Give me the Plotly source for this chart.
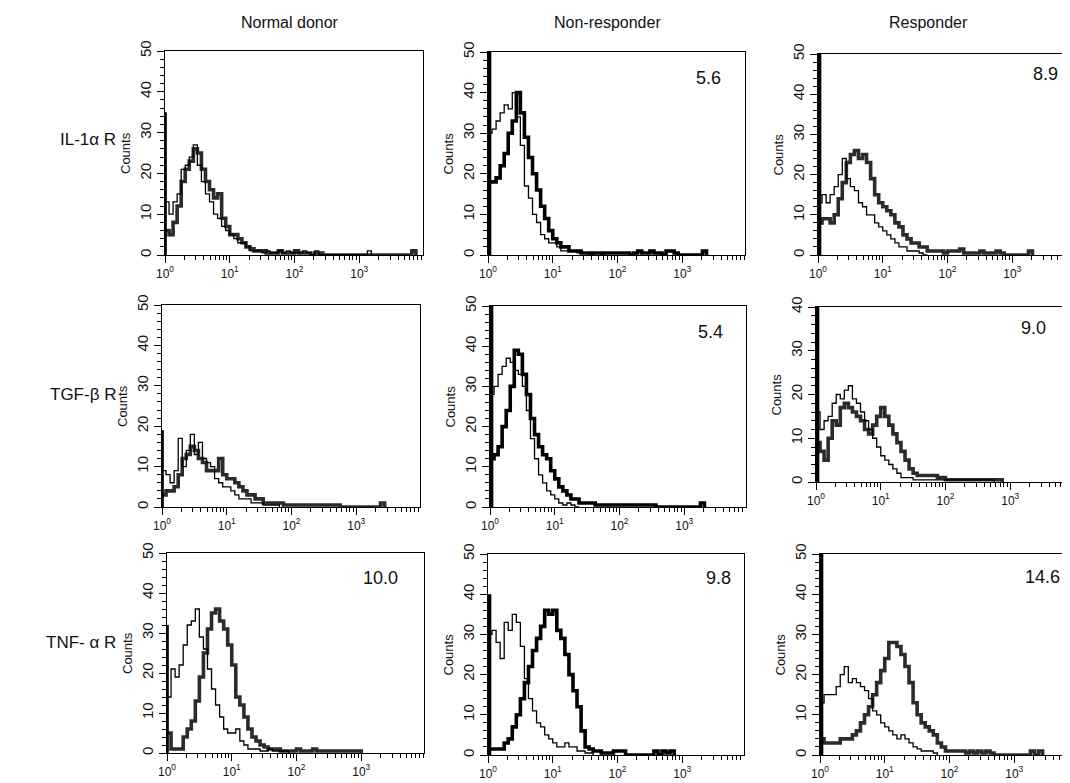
import plotly.graph_objects as go

# ---------------- data ----------------
COLUMN_TITLES = ["Normal donor", "Non-responder", "Responder"]
ROW_TITLES = ["IL-1\u03b1 R", "TGF-\u03b2 R", "TNF- \u03b1 R"]
X_TICK_VALUES = [1, 10, 100, 1000, 10000]
X_TICK_TEXT = ["10<sup>0</sup>", "10<sup>1</sup>", "10<sup>2</sup>", "10<sup>3</sup>", "10<sup>4</sup>"]
Y_MAX = [[50, 50, 50], [50, 50, 40], [50, 50, 50]]
MFI_LABELS = [[None, "5.6", "8.9"], [None, "5.4", "9.0"], ["10.0", "9.8", "14.6"]]
CHANNELS_PER_DECADE = 16          # histogram bins: 16 log-channels per decade, starting at 10^0
FIRST_CHANNEL_X = 1.03            # pile-up in the first channel
FIRST_CHANNEL_COUNTS = [[35, 50, 50], [19, 50, 40], [32, 40, 50]]

# isotype control (thin) and receptor stain (thick) histograms, counts per channel
IL1_ND_ISO = [13, 10, 13, 15, 21, 22, 24, 27, 22, 18, 15, 13, 10, 9, 7, 6, 5, 4, 3, 3, 2, 1, 1, 1, 0.5, 1, 0.5,
              0.5, 1, 0.5, 1, 0.5, 0.5, 0.5, 1, 0.5, 0, 1, 0, 0, 0, 0, 0, 0, 0, 0, 0, 0, 0, 0, 1, 0]
IL1_ND_STAIN = [6, 5, 8, 12, 18, 21, 23, 26, 25, 21, 18, 16, 14, 15, 9, 7, 5, 5, 4, 3, 2, 1.5, 1, 1, 1, 0.5, 0.5,
                0.5, 1, 0.5, 0.5, 0.5, 1, 0.5, 0.5, 0.5, 0, 0.5, 0.5, 0, 0, 0, 0, 0, 0, 0, 0, 0, 0, 0, 0, 0, 0,
                0, 0, 0, 0, 0, 0, 0, 0, 1, 0]
IL1_NR_ISO = [30, 31, 33, 35, 37, 36, 40, 34, 27, 17, 14, 10, 8, 5, 4, 3, 3, 2, 1, 1, 1, 1, 0.5, 0.5, 0.5, 0,
              0.5, 0.5, 0, 0]
IL1_NR_STAIN = [18, 18, 19, 22, 25, 30, 33, 40, 35, 29, 24, 20, 16, 12, 9, 6, 4, 3, 2, 2, 1, 1, 1, 0.5, 0.5, 0.5,
                0.5, 0.5, 0.5, 0.5, 0.5, 0.5, 0.5, 0.5, 0.5, 0, 0.5, 1, 0.5, 0.5, 1, 0.5, 0.5, 0, 1, 1, 0.5, 0,
                0, 0, 0, 0, 0, 1, 0]
IL1_R_ISO = [13, 15, 13, 15, 17, 20, 24, 19, 17, 16, 13, 12, 10, 10, 8, 7, 6, 5, 4, 3, 2, 2, 1, 1, 1, 0.5, 0, 0]
IL1_R_STAIN = [8, 9, 9, 8, 10, 14, 18, 23, 25, 26, 24, 25, 23, 19, 15, 13, 12, 11, 10, 8, 7, 5, 4, 3, 3, 2, 2, 1,
               1, 1, 1, 0.5, 1, 1, 1, 1.5, 0.5, 0.5, 0.5, 0.5, 1, 0.5, 0.5, 0.5, 1, 0.5, 0, 0, 0, 0, 0, 0, 1, 0]

TGF_ND_ISO = [9, 8, 6, 9, 17, 10, 14, 18, 13, 16, 12, 11, 10, 7, 6, 5, 5, 4, 3, 2, 2, 2, 1, 1, 1, 0.5, 0.5, 0.5,
              0.5, 0]
TGF_ND_STAIN = [3, 4, 4, 5, 8, 12, 13, 15, 14, 12, 11, 9, 9, 9, 12, 8, 7, 7, 6, 5, 4, 3, 3, 2, 2, 1, 1, 1, 1, 1,
                0.5, 0.5, 0.5, 0.5, 0.5, 0.5, 0.5, 0.5, 0.5, 0.5, 0.5, 0.5, 0.5, 0.5, 0, 0, 0, 0, 0, 0, 0, 0, 0,
                0, 1, 0]
TGF_NR_ISO = [28, 30, 33, 35, 37, 36, 34, 33, 30, 24, 17, 12, 8, 6, 4, 3, 2, 1, 0.5, 1, 0.5, 0, 0]
TGF_NR_STAIN = [12, 13, 15, 20, 24, 30, 39, 38, 33, 28, 22, 18, 15, 13, 12, 9, 7, 5, 4, 3, 2, 2, 1, 1, 1, 1, 0.5,
                0.5, 0.5, 0.5, 0.5, 0.5, 0.5, 0.5, 0.5, 0.5, 0.5, 0.5, 0.5, 0.5, 0.5, 0, 0, 0, 0, 0, 0, 0, 0, 0,
                0, 0, 1, 0]
TGF_R_ISO = [16, 12, 14, 15, 18, 20, 19, 21, 22, 19, 18, 16, 14, 12, 10, 8, 6, 5, 4, 3, 2, 1, 1, 1, 0.5, 0.5, 0.5,
             0.5, 0.5, 0.5, 0.5, 0.5, 0.5, 0.5, 0.5, 0.5, 0.5, 0.5, 0.5, 0.5, 0.5, 0.5, 0.5, 0.5, 0]
TGF_R_STAIN = [9, 7, 5, 10, 14, 13, 17, 18, 17, 16, 15, 14, 12, 11, 13, 15, 17, 15, 13, 11, 9, 7, 5, 3, 2, 1.5,
               1.5, 1.5, 1.5, 1.5, 1, 1, 0.5, 0.5, 0.5, 0.5, 0.5, 0.5, 0.5, 0.5, 0.5, 0.5, 0.5, 0.5, 0.5, 0.5, 0]

TNF_ND_ISO = [14, 21, 19, 22, 27, 32, 33, 36, 29, 26, 21, 16, 12, 9, 6, 5, 5, 6, 3, 2, 1, 1, 1, 0.5, 0.5, 1, 0.5,
              0.5, 0.5, 0.5, 0]
TNF_ND_STAIN = [5, 1, 1, 1, 4, 6, 8, 13, 19, 25, 31, 35, 36, 33, 31, 27, 22, 14, 12, 9, 6, 4, 3, 2, 1.5, 1, 1, 1,
                0.5, 0.5, 0.5, 0.5, 1, 0.5, 0.5, 0.5, 1, 0.5, 0.5, 0.5, 0.5, 0.5, 0.5, 0.5, 0.5, 0.5, 0.5,
                0.5, 0]
TNF_NR_ISO = [30, 31, 28, 24, 33, 31, 35, 33, 27, 19, 14, 11, 8, 7, 5, 4, 3, 2, 2, 3, 2, 2, 1, 1, 0.5, 0.5, 0]
TNF_NR_STAIN = [1.5, 1.5, 1.5, 1.5, 3, 4, 7, 10, 14, 18, 22, 26, 29, 32, 36, 35, 36, 31, 29, 25, 20, 16, 12, 6, 2,
                1.5, 1, 1, 0.5, 0.5, 0.5, 1, 1, 1, 0, 0, 0, 0, 0, 0, 0, 1, 0, 1, 0.5, 1, 0]
TNF_R_ISO = [13, 15, 15, 15, 17, 20, 22, 18, 19, 18, 17, 16, 14, 11, 10, 8, 7, 6, 5, 4, 5, 4, 3, 2, 1.5, 1, 1, 1,
             0.5, 0]
TNF_R_STAIN = [4, 3, 3, 3, 3, 4, 4, 4, 5, 6, 8, 10, 12, 15, 18, 21, 24, 28, 28, 27, 25, 22, 18, 13, 10, 8, 7, 6,
               5, 3, 2, 1, 1, 1, 1, 1, 0.5, 1, 0.5, 1, 0.5, 1, 0.5, 0, 0, 0, 0, 0, 0, 0, 0, 0, 1, 0, 1, 0]

ISO = [[IL1_ND_ISO, IL1_NR_ISO, IL1_R_ISO],
       [TGF_ND_ISO, TGF_NR_ISO, TGF_R_ISO],
       [TNF_ND_ISO, TNF_NR_ISO, TNF_R_ISO]]
STAIN = [[IL1_ND_STAIN, IL1_NR_STAIN, IL1_R_STAIN],
         [TGF_ND_STAIN, TGF_NR_STAIN, TGF_R_STAIN],
         [TNF_ND_STAIN, TNF_NR_STAIN, TNF_R_STAIN]]

# ---------------- layout ----------------
PAGE_OFFSET = 8                    # the page body margin shifts the figure by 8 px
W, H = 1070 - PAGE_OFFSET, 783 - PAGE_OFFSET
BOX = [  # (left, right, top, bottom) in screen px
    [(165, 423, 51, 255), (488, 745, 52, 255), (818, 1070, 54, 255)],
    [(162, 420, 305, 507), (490, 746, 306, 507), (816, 1070, 307, 482)],
    [(167, 424, 553, 753), (488, 744, 554, 755), (820, 1070, 554, 755)],
]
MFI_POS = [  # (right edge, vertical centre) of the value labels, screen px
    [None, (723, 78), (1060, 74)],
    [None, (725, 332), (1048, 328)],
    [(400, 578), (733, 578), (1062, 577)],
]
FONT = "Liberation Sans, Arial, sans-serif"


def px(xs):
    return (xs - PAGE_OFFSET) / W


def py(ys):
    return 1 - (ys - PAGE_OFFSET) / H


def channel_x(n):
    return [10 ** (k / CHANNELS_PER_DECADE) for k in range(n)]


MINOR_X = [m * 10 ** d for d in range(4) for m in range(2, 10)]
DECADE_PX = (424 - 165) / 4.0

fig = go.Figure()
annotations = []
for r in range(3):
    for c in range(3):
        i = r * 3 + c + 1
        xa = "x" if i == 1 else f"x{i}"
        ya = "y" if i == 1 else f"y{i}"
        L, R, T, B = BOX[r][c]
        thick_col = "#000000" if c == 1 else "#2b2b2b"

        iso = ISO[r][c]
        stain = STAIN[r][c]
        fig.add_trace(go.Scatter(x=channel_x(len(stain)), y=stain, mode="lines",
                                 line=dict(shape="hv", color=thick_col, width=3.6),
                                 xaxis=xa, yaxis=ya, showlegend=False, hoverinfo="skip"))
        fig.add_trace(go.Scatter(x=channel_x(len(iso)), y=iso, mode="lines",
                                 line=dict(shape="hv", color="#000000", width=1.3),
                                 xaxis=xa, yaxis=ya, showlegend=False, hoverinfo="skip"))
        fig.add_trace(go.Scatter(x=[FIRST_CHANNEL_X, FIRST_CHANNEL_X], y=[0, FIRST_CHANNEL_COUNTS[r][c]],
                                 mode="lines", line=dict(color="#000000", width=2 if c == 0 else 5),
                                 xaxis=xa, yaxis=ya, showlegend=False, hoverinfo="skip"))

        ymax = Y_MAX[r][c]
        x_right = min(px(R), 1.0)
        fig.update_layout(**{
            ("xaxis" if i == 1 else f"xaxis{i}"): dict(
                domain=[px(L), x_right], anchor=ya, type="log",
                range=[0, (x_right * W + PAGE_OFFSET - L) / DECADE_PX], automargin=False,
                tickmode="array", tickvals=X_TICK_VALUES, ticktext=X_TICK_TEXT,
                ticks="outside", ticklen=7, tickwidth=1.2, tickcolor="black",
                minor=dict(tickmode="array", tickvals=MINOR_X, ticks="outside", ticklen=4,
                           tickwidth=1, tickcolor="black", showgrid=False),
                showline=True, linecolor="black", linewidth=1.2, mirror=True,
                showgrid=False, zeroline=False,
                tickfont=dict(family=FONT, size=12, color="#111"),
            ),
            ("yaxis" if i == 1 else f"yaxis{i}"): dict(
                domain=[py(B), py(T)], anchor=xa, range=[0, ymax], automargin=False,
                tickmode="array", tickvals=list(range(0, ymax + 1, 10)),
                ticks="outside", ticklen=7, tickwidth=1.2, tickcolor="black",
                minor=dict(dtick=2, ticks="outside", ticklen=4, tickwidth=1, tickcolor="black",
                           showgrid=False),
                tickangle=-90,
                showline=True, linecolor="black", linewidth=1.2, mirror=(c != 2),
                showgrid=False, zeroline=False,
                tickfont=dict(family=FONT, size=15, color="#111"),
            ),
        })
        # "Counts" axis title
        annotations.append(dict(text="Counts", xref="paper", yref="paper",
                                x=px(L - 40), y=py((T + B) / 2), textangle=-90,
                                showarrow=False, xanchor="center", yanchor="middle",
                                font=dict(family=FONT, size=13, color="#111")))
        if MFI_LABELS[r][c]:
            mx, my = MFI_POS[r][c]
            annotations.append(dict(text=MFI_LABELS[r][c], xref="paper", yref="paper",
                                    x=min(px(mx), 1.0), y=py(my), showarrow=False,
                                    xanchor="right", yanchor="middle",
                                    font=dict(family=FONT, size=18, color="#111")))

COL_CENTERS = [290, 607, 928]
for c, t in enumerate(COLUMN_TITLES):
    annotations.append(dict(text=t, xref="paper", yref="paper", x=px(COL_CENTERS[c]), y=py(22),
                            showarrow=False, xanchor="center", yanchor="middle",
                            font=dict(family=FONT, size=16, color="#111")))
ROW_Y = [140, 395, 642]
for r, t in enumerate(ROW_TITLES):
    annotations.append(dict(text=t, xref="paper", yref="paper", x=px(118), y=py(ROW_Y[r]),
                            showarrow=False, xanchor="right", yanchor="middle",
                            font=dict(family=FONT, size=17, color="#111")))

fig.update_layout(width=W, height=H, margin=dict(l=0, r=0, t=0, b=0, pad=0),
                  paper_bgcolor="white", plot_bgcolor="white",
                  annotations=annotations, showlegend=False)
fig.write_html("out.html")
